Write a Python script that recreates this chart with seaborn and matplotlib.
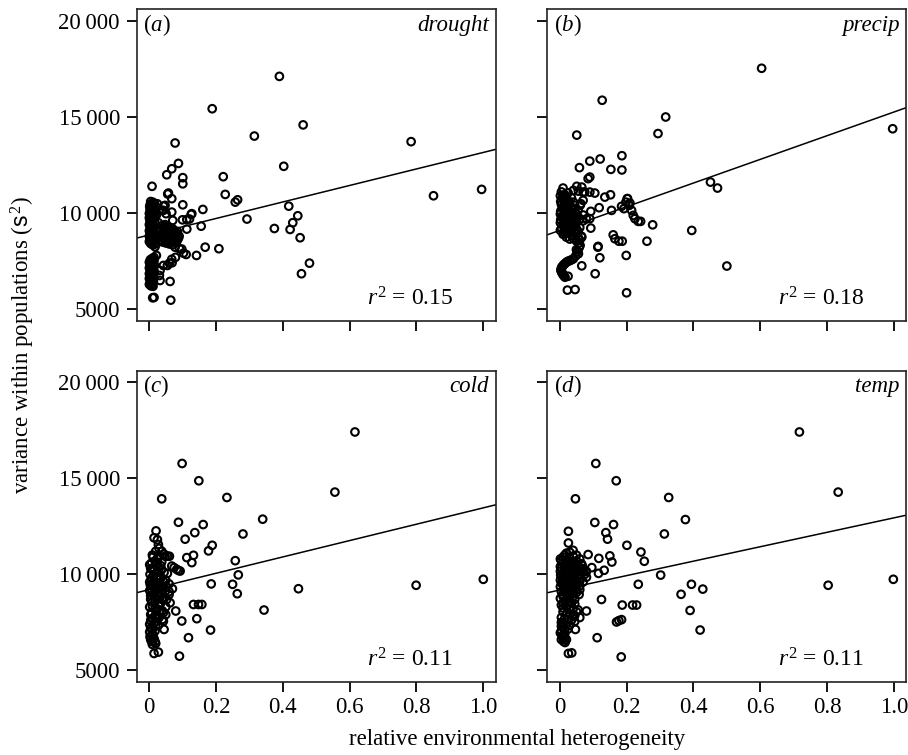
import matplotlib
matplotlib.use('Agg')
import matplotlib.pyplot as plt
import seaborn as sns
import pandas as pd

# ---------------- data ----------------
panel_letters = ['a', 'b', 'c', 'd']
panel_names = ['drought', 'precip', 'cold', 'temp']
r2_values = ['0.15', '0.18', '0.11', '0.11']
fit_intercepts = [8860, 9100, 9200, 9180]
fit_slopes = [4290, 6150, 4260, 3760]
x_ticks = [0, 0.2, 0.4, 0.6, 0.8, 1.0]
x_tick_labels = ['0', '0.2', '0.4', '0.6', '0.8', '1.0']
y_ticks = [5000, 10000, 15000, 20000]
y_tick_labels = ['5000', '10\u2009000', '15\u2009000', '20\u2009000']

drought_points = [
    (0.390, 17100), (0.189, 15420), (0.461, 14580), (0.315, 14000), (0.784, 13710), (0.078, 13640),
    (0.403, 12430), (0.088, 12580), (0.068, 12300), (0.053, 11990), (0.101, 11840), (0.101, 11520),
    (0.222, 11890), (0.009, 11390), (0.995, 11230), (0.851, 10900), (0.228, 10970), (0.056, 10990),
    (0.068, 10750), (0.258, 10570), (0.265, 10690), (0.101, 10430), (0.418, 10360), (0.161, 10190),
    (0.445, 9860), (0.430, 9500), (0.422, 9150), (0.375, 9200), (0.293, 9690), (0.452, 8720),
    (0.480, 7400), (0.456, 6850), (0.209, 8150), (0.168, 8230), (0.142, 7800), (0.111, 7850),
    (0.156, 9320), (0.128, 9970), (0.121, 9690), (0.113, 9170), (0.100, 9650), (0.098, 8130),
    (0.065, 5480), (0.011, 5600), (0.015, 5620), (0.063, 6450), (0.033, 6500), (0.069, 7420),
    (0.055, 7280), (0.043, 7280), (0.079, 7700), (0.091, 8150), (0.058, 11040), (0.048, 10400),
    (0.038, 10140), (0.051, 9970), (0.068, 10050), (0.113, 9670), (0.126, 9930), (0.078, 8230),
    (0.103, 7920), (0.068, 7600), (0.061, 7400), (0.033, 7020), (0.031, 6760), (0.073, 8930),
    (0.078, 8580), (0.071, 9620), (0.043, 10360), (0.043, 10140), (0.025, 10480), (0.030, 10150),
    (0.022, 9900), (0.028, 9500), (0.032, 9100), (0.025, 8800),
    (0.005, 10600), (0.012, 10560), (0.004, 10450), (0.010, 10380), (0.006, 10300), (0.014, 10250),
    (0.003, 10180), (0.009, 10100), (0.005, 10020), (0.012, 9950), (0.004, 9880), (0.010, 9800),
    (0.006, 9720), (0.013, 9650), (0.003, 9580), (0.008, 9500), (0.005, 9420), (0.011, 9350),
    (0.004, 9270), (0.009, 9200), (0.006, 9120), (0.013, 9050), (0.004, 8980), (0.010, 8900),
    (0.006, 8820), (0.012, 8740), (0.003, 8660), (0.008, 8580), (0.015, 8500), (0.005, 8420),
    (0.011, 8350), (0.018, 8250),
    (0.016, 10500), (0.002, 10350), (0.017, 10150), (0.001, 9980), (0.016, 9850), (0.001, 9750),
    (0.017, 9550), (0.001, 9400), (0.016, 9250), (0.001, 9080), (0.017, 8950), (0.001, 8800),
    (0.016, 8650), (0.001, 8520), (0.020, 8400),
    (0.010, 7650), (0.004, 7580), (0.013, 7500), (0.006, 7420), (0.009, 7340), (0.003, 7260),
    (0.012, 7180), (0.005, 7100), (0.008, 7020), (0.004, 6940), (0.011, 6860), (0.006, 6780),
    (0.003, 6700), (0.009, 6620), (0.005, 6540), (0.007, 6460), (0.004, 6380), (0.010, 6300),
    (0.006, 6220), (0.015, 7700), (0.022, 7800),
    (0.015, 7550), (0.001, 7450), (0.016, 7300), (0.001, 7150), (0.015, 7000), (0.001, 6850),
    (0.014, 6720), (0.001, 6600), (0.013, 6450), (0.001, 6300), (0.012, 6200),
    (0.040, 9350), (0.050, 9300), (0.060, 9250), (0.070, 9200), (0.045, 9150), (0.055, 9080),
    (0.065, 9020), (0.075, 8980), (0.085, 9050), (0.040, 8950), (0.050, 8880), (0.060, 8820),
    (0.070, 8760), (0.080, 8700), (0.045, 8700), (0.055, 8640), (0.065, 8580), (0.075, 8520),
    (0.085, 8600), (0.040, 8500), (0.050, 8450), (0.060, 8400), (0.070, 8360), (0.090, 8800),
    (0.035, 8600), (0.048, 9400),
    (0.042, 9250), (0.052, 9200), (0.062, 9150), (0.072, 9100), (0.082, 8950), (0.047, 9050),
    (0.057, 8980), (0.067, 8920), (0.077, 8850), (0.042, 8800), (0.052, 8760), (0.062, 8700),
    (0.072, 8650), (0.082, 8500), (0.047, 8580), (0.057, 8520), (0.067, 8460), (0.088, 8700),
]

precip_points = [
    (0.604, 17520), (0.127, 15860), (0.996, 14380), (0.317, 14990), (0.294, 14130), (0.051, 14050),
    (0.186, 12980), (0.121, 12810), (0.090, 12700), (0.059, 12360), (0.153, 12270), (0.186, 12240),
    (0.090, 11870), (0.085, 11790), (0.051, 11390), (0.066, 11350), (0.041, 11180), (0.056, 11140),
    (0.075, 11090), (0.105, 11040), (0.135, 10830), (0.152, 10950), (0.063, 10490), (0.041, 10570),
    (0.118, 10280), (0.093, 10090), (0.155, 10140), (0.185, 10350), (0.198, 10570), (0.203, 10750),
    (0.210, 10520), (0.192, 10230), (0.215, 10140), (0.220, 9880), (0.225, 9710), (0.235, 9570),
    (0.242, 9570), (0.278, 9390), (0.395, 9100), (0.261, 8540), (0.160, 8870), (0.165, 8670),
    (0.177, 8540), (0.187, 8540), (0.114, 8230), (0.120, 7680), (0.199, 7800), (0.066, 7260),
    (0.106, 6850), (0.200, 5860), (0.023, 6000), (0.046, 6030), (0.500, 7250), (0.451, 11610),
    (0.472, 11300), (0.093, 9220), (0.070, 11090), (0.090, 11090), (0.011, 10920), (0.016, 10570),
    (0.011, 10310), (0.070, 10660), (0.061, 10400), (0.090, 9710), (0.066, 8750), (0.115, 8270),
    (0.202, 10750), (0.208, 10400),
    (0.010, 11300), (0.005, 11100), (0.015, 10950), (0.025, 11050), (0.008, 10800), (0.020, 10700),
    (0.035, 10800), (0.003, 10600), (0.015, 10500), (0.030, 10450), (0.045, 10400), (0.008, 10300),
    (0.022, 10250), (0.040, 10200), (0.055, 10150), (0.003, 10100), (0.015, 10050), (0.030, 10000),
    (0.050, 9950), (0.070, 9900), (0.008, 9850), (0.022, 9800), (0.040, 9750), (0.060, 9700),
    (0.080, 9700), (0.003, 9650), (0.015, 9600), (0.030, 9550), (0.050, 9500), (0.010, 9400),
    (0.025, 9350), (0.045, 9300), (0.060, 9250), (0.005, 9200), (0.020, 9150), (0.035, 9100),
    (0.055, 9050), (0.012, 9000), (0.030, 8950), (0.050, 8900), (0.065, 8800), (0.020, 8750),
    (0.040, 8700), (0.060, 8600), (0.061, 8320), (0.056, 7890), (0.050, 8100), (0.041, 7630),
    (0.030, 7530), (0.020, 7450), (0.012, 7320), (0.006, 7190), (0.004, 7060), (0.006, 6930),
    (0.010, 6800), (0.016, 6670), (0.025, 6720),
    (0.002, 10900), (0.018, 10850), (0.012, 10650), (0.028, 10600), (0.005, 10450), (0.020, 10400),
    (0.035, 10300), (0.012, 10180), (0.025, 10120), (0.045, 10050), (0.002, 9950), (0.018, 9900),
    (0.035, 9850), (0.055, 9800), (0.008, 9750), (0.025, 9700), (0.045, 9650), (0.070, 9600),
    (0.002, 9500), (0.018, 9450), (0.040, 9400), (0.012, 9300), (0.030, 9250), (0.050, 9180),
    (0.002, 9100), (0.022, 9050), (0.045, 9000), (0.010, 8900), (0.035, 8850), (0.055, 8750),
    (0.030, 8650), (0.050, 8550), (0.058, 8450), (0.058, 8200), (0.053, 8000), (0.048, 7780),
    (0.036, 7580), (0.025, 7500), (0.016, 7380), (0.009, 7250), (0.005, 7120), (0.004, 7000),
    (0.008, 6870), (0.013, 6730),
]

cold_points = [
    (0.616, 17410), (0.099, 15770), (0.149, 14870), (0.038, 13930), (0.233, 14000), (0.556, 14280),
    (0.340, 12870), (0.088, 12710), (0.162, 12590), (0.137, 12170), (0.108, 11830), (0.021, 12260),
    (0.281, 12100), (0.189, 11510), (0.178, 11220), (0.133, 10990), (0.128, 10610), (0.113, 10870),
    (0.258, 10710), (0.267, 9970), (0.250, 9480), (0.264, 8990), (0.186, 9500), (0.447, 9250),
    (0.799, 9430), (1.000, 9740), (0.344, 8140), (0.133, 8430), (0.148, 8430), (0.158, 8430),
    (0.080, 8090), (0.098, 7570), (0.143, 7690), (0.184, 7100), (0.118, 6700), (0.045, 7130),
    (0.091, 5740), (0.015, 5880), (0.028, 5950), (0.093, 10170), (0.083, 10260), (0.068, 10430),
    (0.075, 10350), (0.088, 10200), (0.015, 11900), (0.028, 11550), (0.038, 11200), (0.048, 10940),
    (0.061, 10940), (0.043, 8690), (0.053, 8690), (0.063, 8520), (0.043, 8000), (0.043, 7560),
    (0.025, 11800), (0.030, 11350), (0.045, 11050), (0.055, 10950), (0.020, 11200), (0.012, 10900),
    (0.025, 10800), (0.008, 10600), (0.020, 10500), (0.035, 10450), (0.005, 10300), (0.015, 10200),
    (0.028, 10150), (0.045, 10100), (0.003, 10000), (0.012, 9900), (0.022, 9850), (0.035, 9800),
    (0.006, 9700), (0.018, 9600), (0.030, 9550), (0.050, 9700), (0.004, 9450), (0.014, 9350),
    (0.026, 9300), (0.040, 9400), (0.060, 9500), (0.008, 9200), (0.020, 9100), (0.035, 9050),
    (0.050, 9150), (0.070, 9250), (0.012, 8950), (0.028, 8850), (0.045, 8800), (0.060, 8950),
    (0.005, 8700), (0.018, 8600), (0.035, 8500), (0.010, 8350), (0.025, 8200), (0.040, 8100),
    (0.008, 8000), (0.018, 7850), (0.030, 7750), (0.040, 7650), (0.005, 7600), (0.015, 7450),
    (0.028, 7350), (0.005, 7200), (0.018, 7050), (0.010, 6900), (0.003, 6750), (0.015, 6650),
    (0.008, 6500), (0.020, 6400),
    (0.010, 11000), (0.030, 10950), (0.018, 10700), (0.038, 10650), (0.002, 10500), (0.028, 10400),
    (0.010, 10250), (0.038, 10250), (0.020, 10050), (0.055, 10050), (0.008, 9800), (0.028, 9750),
    (0.045, 9600), (0.002, 9600), (0.024, 9500), (0.010, 9400), (0.035, 9300), (0.052, 9350),
    (0.002, 9150), (0.028, 9050), (0.060, 9100), (0.005, 8900), (0.020, 8800), (0.038, 8700),
    (0.010, 8550), (0.028, 8450), (0.002, 8300), (0.018, 8200), (0.032, 8050), (0.005, 7900),
    (0.025, 7800), (0.010, 7700), (0.022, 7550), (0.002, 7400), (0.020, 7300), (0.010, 7150),
    (0.002, 7000), (0.012, 6800), (0.005, 6600), (0.018, 6500), (0.010, 6350), (0.050, 7900),
    (0.050, 8300),
]

temp_points = [
    (0.717, 17410), (0.108, 15770), (0.169, 14870), (0.047, 13930), (0.326, 14000), (0.833, 14280),
    (0.376, 12850), (0.026, 12240), (0.026, 11630), (0.105, 12700), (0.161, 12590), (0.138, 12170),
    (0.143, 11830), (0.313, 12100), (0.201, 11510), (0.085, 11030), (0.117, 10830), (0.150, 10960),
    (0.156, 10640), (0.243, 11160), (0.253, 10680), (0.067, 10470), (0.096, 10350), (0.116, 10050),
    (0.133, 10210), (0.302, 9960), (0.235, 9480), (0.394, 9480), (0.363, 8960), (0.428, 9230),
    (0.803, 9430), (0.998, 9740), (0.125, 8690), (0.187, 8400), (0.218, 8400), (0.230, 8400),
    (0.080, 8090), (0.390, 8120), (0.177, 7590), (0.185, 7640), (0.170, 7520), (0.047, 7130),
    (0.420, 7100), (0.112, 6700), (0.184, 5700), (0.026, 5880), (0.036, 5910),
    (0.040, 11250), (0.020, 11100), (0.050, 11000), (0.010, 10900), (0.030, 10850), (0.060, 10800),
    (0.005, 10700), (0.025, 10650), (0.045, 10600), (0.015, 10500), (0.035, 10450), (0.055, 10400),
    (0.070, 10300), (0.005, 10300), (0.025, 10250), (0.045, 10200), (0.060, 10150), (0.015, 10100),
    (0.035, 10050), (0.075, 10000), (0.003, 9950), (0.020, 9900), (0.040, 9850), (0.060, 9800),
    (0.010, 9750), (0.030, 9700), (0.050, 9650), (0.070, 9600), (0.005, 9550), (0.020, 9500),
    (0.040, 9450), (0.060, 9400), (0.012, 9300), (0.030, 9250), (0.050, 9200), (0.005, 9100),
    (0.020, 9050), (0.040, 9000), (0.058, 8950), (0.010, 8850), (0.030, 8800), (0.045, 8700),
    (0.015, 8600), (0.035, 8500), (0.005, 8400), (0.020, 8300), (0.040, 8200), (0.055, 8150),
    (0.010, 8050), (0.030, 7950), (0.045, 7850), (0.060, 7750), (0.015, 7700), (0.035, 7600),
    (0.005, 7500), (0.020, 7400), (0.010, 7250), (0.025, 7150), (0.005, 7050), (0.015, 6900),
    (0.008, 6750), (0.020, 6600), (0.012, 6500),
    (0.030, 11150), (0.015, 11000), (0.040, 10950), (0.002, 10800), (0.020, 10750), (0.050, 10700),
    (0.035, 10650), (0.010, 10600), (0.065, 10550), (0.025, 10500), (0.045, 10450), (0.002, 10400),
    (0.030, 10350), (0.060, 10350), (0.015, 10250), (0.050, 10250), (0.080, 10150), (0.002, 10150),
    (0.025, 10100), (0.070, 10100), (0.045, 10000), (0.010, 10000), (0.060, 9950), (0.030, 9900),
    (0.080, 9850), (0.015, 9800), (0.045, 9750), (0.002, 9700), (0.025, 9650), (0.060, 9650),
    (0.035, 9550), (0.010, 9500), (0.050, 9450), (0.025, 9400), (0.002, 9350), (0.040, 9300),
    (0.015, 9200), (0.060, 9200), (0.030, 9100), (0.050, 9050), (0.010, 8950), (0.025, 8900),
    (0.040, 8850), (0.002, 8750), (0.020, 8700), (0.030, 8600), (0.010, 8500), (0.045, 8450),
    (0.025, 8400), (0.010, 8250), (0.030, 8150), (0.050, 8050), (0.020, 7900), (0.040, 7800),
    (0.005, 7750), (0.025, 7650), (0.045, 7550), (0.010, 7450), (0.030, 7350), (0.005, 7300),
    (0.015, 7100), (0.002, 6950), (0.010, 6850), (0.015, 6700), (0.005, 6600), (0.016, 6450),
]

all_points = [drought_points, precip_points, cold_points, temp_points]

# ---------------- style ----------------
sns.set_theme(style='ticks')
plt.rcParams['font.family'] = ['Liberation Serif', 'DejaVu Serif']
plt.rcParams['mathtext.fontset'] = 'custom'
plt.rcParams['mathtext.rm'] = 'Liberation Serif'
plt.rcParams['mathtext.it'] = 'Liberation Serif:italic'
plt.rcParams['mathtext.sf'] = 'Liberation Sans'
plt.rcParams['text.color'] = 'black'
plt.rcParams['axes.labelcolor'] = 'black'
plt.rcParams['xtick.color'] = 'black'
plt.rcParams['ytick.color'] = 'black'

FS = 16.5
XLIM = (-0.037, 1.037)
YLIM = (4410, 20580)

fig = plt.figure(figsize=(9.08, 7.55), dpi=100)
positions = [
    [0.1505, 0.5752, 0.3954, 0.4124],
    [0.6028, 0.5752, 0.3954, 0.4124],
    [0.1505, 0.0971, 0.3954, 0.4114],
    [0.6028, 0.0971, 0.3954, 0.4114],
]

for i in range(4):
    ax = fig.add_axes(positions[i])
    df = pd.DataFrame(all_points[i], columns=['x', 'y'])
    sns.scatterplot(data=df, x='x', y='y', ax=ax, marker='o', s=30,
                    facecolor='none', edgecolor='black', linewidth=1.5, zorder=3)
    line_df = pd.DataFrame({'x': list(XLIM)})
    line_df['y'] = fit_intercepts[i] + fit_slopes[i] * line_df['x']
    sns.lineplot(data=line_df, x='x', y='y', ax=ax, color='black', linewidth=1.1, zorder=2)

    ax.set_xlim(*XLIM)
    ax.set_ylim(*YLIM)
    ax.set_xticks(x_ticks)
    ax.set_yticks(y_ticks)
    ax.set_xticklabels(x_tick_labels)
    ax.set_yticklabels(y_tick_labels)
    ax.set_xlabel('')
    ax.set_ylabel('')
    ax.tick_params(direction='out', length=7, width=1.3, color='black',
                   bottom=True, left=True, top=False, right=False,
                   labelsize=FS, labelcolor='black', pad=4)
    ax.tick_params(axis='y', pad=5)
    if i in (1, 3):
        ax.tick_params(axis='y', labelleft=False)
    if i in (0, 1):
        ax.tick_params(axis='x', labelbottom=False)
    for sp in ax.spines.values():
        sp.set_visible(True)
        sp.set_linewidth(1.2)
        sp.set_color('#222222')

    ax.text(0.018, 0.932, '($' + panel_letters[i] + '$)', transform=ax.transAxes,
            fontsize=FS, ha='left', va='baseline')
    ax.text(0.982, 0.932, panel_names[i], transform=ax.transAxes, fontsize=FS,
            style='italic', ha='right', va='baseline')
    ax.text(0.882, 0.05, r'$r^{2}$ = ' + r2_values[i], transform=ax.transAxes,
            fontsize=FS + 0.5, ha='right', va='baseline')

fig.text(0.025, 0.543, r'variance within populations ($\mathsf{s}^{\,2}$)',
         rotation=90, ha='center', va='center', fontsize=FS)
fig.text(0.569, 0.021, 'relative environmental heterogeneity',
         ha='center', va='center', fontsize=FS)

fig.savefig('out.png', dpi=100)
